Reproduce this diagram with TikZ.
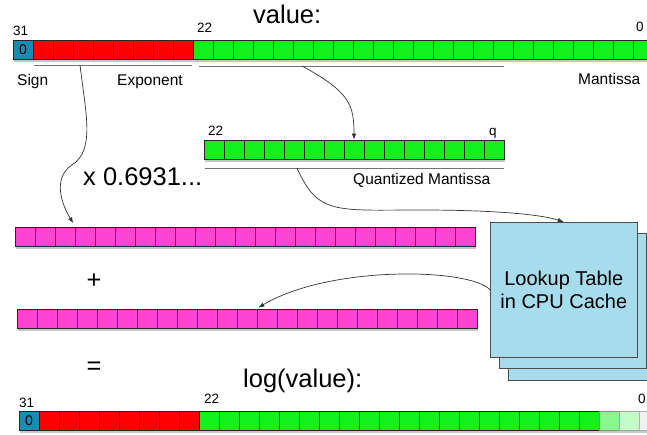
\documentclass[tikz,border=0pt]{standalone}
\usepackage{fontspec}
\setmainfont{Liberation Sans}
\usetikzlibrary{arrows.meta, positioning, shadows}

\definecolor{signblue}{RGB}{26,140,180}
\definecolor{expred}{RGB}{255,0,0}
\definecolor{mantgreen}{RGB}{18,240,30}
\definecolor{sumpink}{RGB}{255,68,212}
\definecolor{cacheblue}{RGB}{166,220,236}

\tikzset{
  bit/.style={draw=black!85, line width=0.7pt, minimum width=20pt, minimum height=19pt, inner sep=0pt, font=\fontsize{14}{14}\selectfont},
  barbg/.style={fill=white, minimum height=19pt, inner sep=0pt, drop shadow={shadow xshift=1pt, shadow yshift=-3pt, opacity=.45}},
  bitno/.style={anchor=base west, inner sep=0pt, font=\fontsize{13.5}{14}\selectfont},
  fieldtxt/.style={anchor=base west, inner sep=0pt, font=\fontsize{15.5}{16}\selectfont},
  bigtxt/.style={anchor=base west, inner sep=0pt, font=\fontsize{25.5}{26}\selectfont},
  fieldline/.style={draw=black!55, line width=0.8pt},
  flow/.style={draw=black!80, line width=0.7pt, -{Latex[length=6pt,width=4.5pt]}},
  cachebox/.style={draw=black!70, fill=cacheblue, line width=0.6pt, minimum width=147pt, minimum height=135pt, anchor=north west, inner sep=0pt}
}

\begin{document}
\begin{tikzpicture}[x=1pt, y=-1pt]
  \useasboundingbox (0,0) rectangle (647,435);
  \clip (0,0) rectangle (647,435);

  % value: the 32 input bits
  \node[bigtxt] (valtitle) at (253,24) {value:};
  \node[barbg, minimum width=640pt] (vbar) at (333,49.5) {};
  \node[bit, fill=signblue] (v0) at (23,49.5) {0};
  \foreach \i in {1,...,31}{
    \ifnum\i<9 \def\c{expred}\else\def\c{mantgreen}\fi
    \node[bit, fill=\c] (v\i) at (23+20*\i,49.5) {};
  }
  \node[bitno] (v31no) at (13,36) {31};
  \node[bitno] (v22no) at (197,33) {22};
  \node[bitno] (v0no) at (636,32) {0};
  \draw[fieldline] (34,65) -- (192,65);
  \draw[fieldline] (199,66) -- (504,66);
  \coordinate (expmid) at (80,65);
  \coordinate (mantmid) at (302,66);
  \node[fieldtxt] (signtxt) at (17,86) {Sign};
  \node[fieldtxt] (exptxt) at (117,86) {Exponent};
  \node[fieldtxt] (manttxt) at (578,85) {Mantissa};

  % quantized mantissa
  \node[barbg, minimum width=300pt] (qbar) at (354,149.5) {};
  \foreach \i in {0,...,14}
    \node[bit, fill=mantgreen] (q\i) at (214+20*\i,149.5) {};
  \node[bitno] (q22no) at (208,136) {22};
  \node[bitno] (qqno) at (489,136) {q};
  \draw[fieldline] (205,168) -- (504,168);
  \coordinate (qmid) at (297,168);
  \node[fieldtxt] (qtxt) at (353,185) {Quantized Mantissa};
  \node[bigtxt] (lnconst) at (83,186) {x 0.6931...};

  % the two summands
  \node[barbg, minimum width=460pt] (pabar) at (245,236.5) {};
  \foreach \i in {0,...,22}
    \node[bit, fill=sumpink] (pa\i) at (25+20*\i,236.5) {};
  \node[bigtxt, anchor=center] (plus) at (94,281) {+};
  \node[barbg, minimum width=460pt] (pbbar) at (247,318.5) {};
  \foreach \i in {0,...,22}
    \node[bit, fill=sumpink] (pb\i) at (27+20*\i,318.5) {};
  \node[bigtxt, anchor=center] (equals) at (94,368) {=};

  % lookup table
  \node[cachebox] (lut3) at (508,245) {};
  \node[cachebox] (lut2) at (499,233) {};
  \node[cachebox, align=center, font=\fontsize{20}{23}\selectfont] (lut) at (490,222) {Lookup Table\\in CPU Cache};

  % log(value): the 32 output bits
  \node[bigtxt] (logtitle) at (243,387) {log(value):};
  \node[barbg, minimum width=640pt] (rbar) at (339,420.5) {};
  \node[bit, fill=signblue] (r0) at (29,420.5) {0};
  \foreach \i in {1,...,28}{
    \ifnum\i<9 \def\c{expred}\else\def\c{mantgreen}\fi
    \node[bit, fill=\c] (r\i) at (29+20*\i,420.5) {};
  }
  \node[bit, draw=black!45, fill=mantgreen!50] (r29) at (609,420.5) {};
  \node[bit, draw=black!35, fill=mantgreen!25] (r30) at (629,420.5) {};
  \node[bit, draw=black!30, fill=mantgreen!8!black!6] (r31) at (649,420.5) {};
  \node[bitno] (r31no) at (19,407) {31};
  \node[bitno] (r22no) at (204,403) {22};
  \node[bitno] (r0no) at (638,403) {0};

  % connectors
  \draw[flow, shorten >=4pt] (expmid) .. controls (86,115) and (95,150) .. (72,165)
    .. controls (52,178) and (62,205) .. (pa2.north east);
  \draw[flow] (mantmid) .. controls (350,92) and (354,105) .. (q7.north);
  \draw[flow] (qmid) .. controls (318,215) and (335,210) .. (420,210)
    .. controls (490,210) and (540,214) .. (lut.north);
  \draw[flow, shorten >=2pt] (lut.west) .. controls (470,268) and (330,265) .. (pb12.north west);
\end{tikzpicture}
\end{document}
